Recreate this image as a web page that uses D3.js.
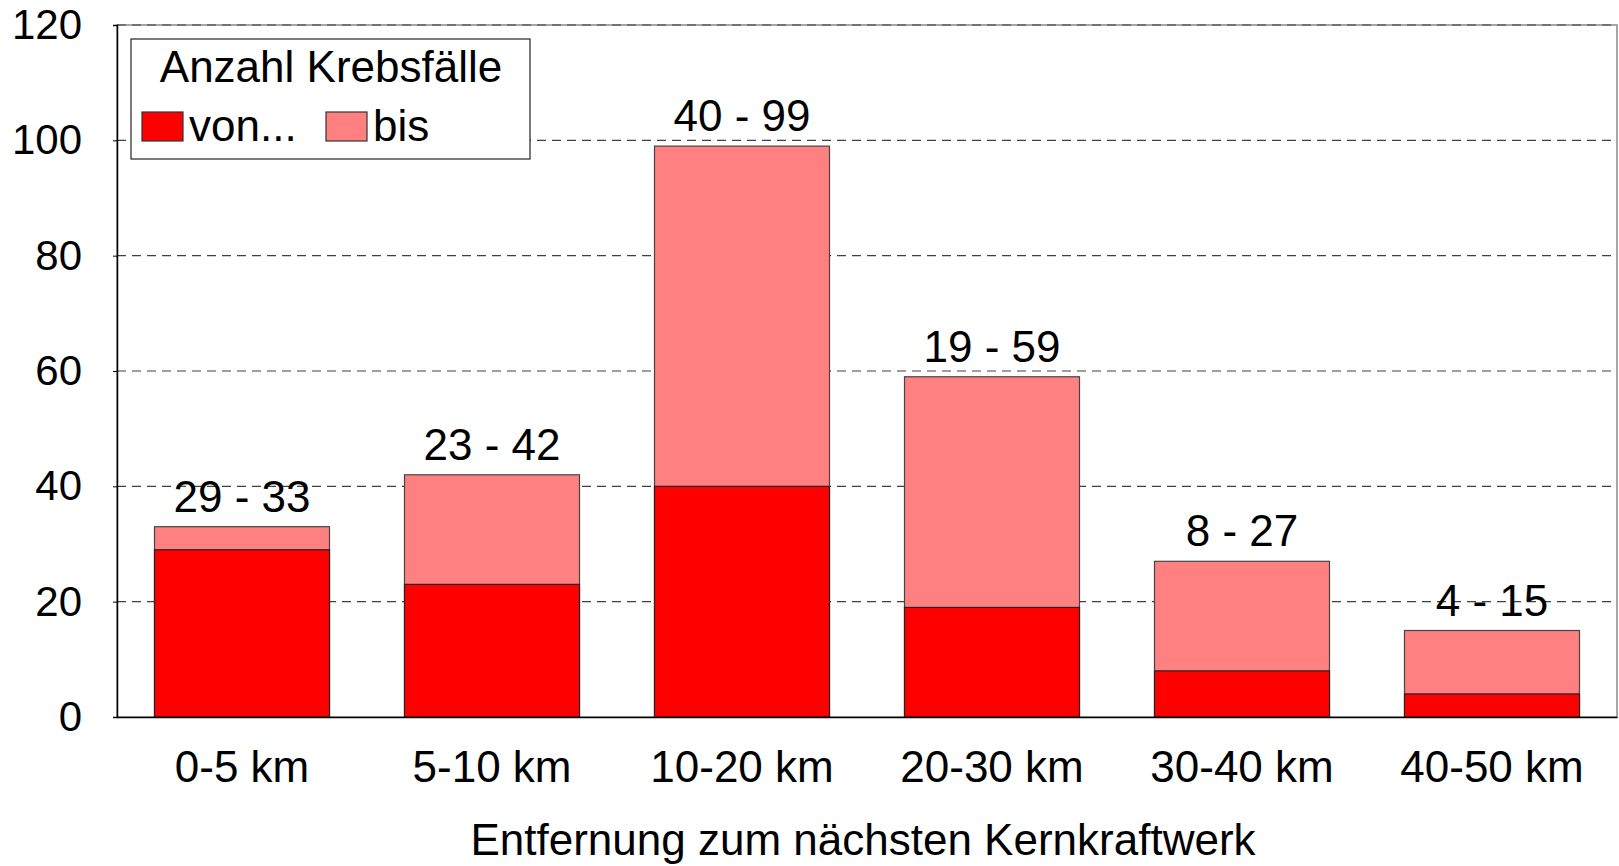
<!DOCTYPE html>
<html>
<head>
<meta charset="utf-8">
<script src="https://cdn.jsdelivr.net/npm/d3@7"></script>
<style>
  body { margin: 0; background: #fff; }
  text { font-family: Arial, "Liberation Sans", sans-serif; fill: #000; }
</style>
</head>
<body>
<script>
// data
var categories = ["0-5 km", "5-10 km", "10-20 km", "20-30 km", "30-40 km", "40-50 km"];
var vonValues = [29, 23, 40, 19, 8, 4];
var bisValues = [33, 42, 99, 59, 27, 15];
var yTicks = [0, 20, 40, 60, 80, 100, 120];
var legendTitle = "Anzahl Krebsfälle";
var seriesNames = ["von...", "bis"];
var xTitle = "Entfernung zum nächsten Kernkraftwerk";

var svg = d3.select("body")
            .append("svg")
            .attr("width", 1619)
            .attr("height", 866);

var margin = {top: 25, right: 2, bottom: 149, left: 117};
var width = 1619 - margin.left - margin.right;
var height = 866 - margin.top - margin.bottom;

var g = svg.append("g")
           .attr("transform", "translate(" + margin.left + "," + margin.top + ")");

var xScale = d3.scaleBand()
               .domain(categories)
               .range([0, width])
               .paddingInner(0.3)
               .paddingOuter(0.15);

var yScale = d3.scaleLinear()
               .domain([0, 120])
               .range([height, 0]);

// plot frame (grey)
g.append("rect")
 .attr("x", 0).attr("y", 0)
 .attr("width", width).attr("height", height)
 .attr("fill", "none")
 .attr("stroke", "#8a8a8a")
 .attr("stroke-width", 1.5);

// dashed gridlines
g.selectAll(".grid")
 .data(yTicks.filter(function(d) { return d > 0; }))
 .enter()
 .append("line")
 .attr("x1", 0)
 .attr("x2", width)
 .attr("y1", function(d) { return yScale(d); })
 .attr("y2", function(d) { return yScale(d); })
 .attr("stroke", "#404040")
 .attr("stroke-width", 1.2)
 .attr("stroke-dasharray", "9,6");

// bars: "bis" total behind, "von" in front
var bars = g.selectAll(".bar")
            .data(categories)
            .enter()
            .append("g");

bars.append("rect")
    .attr("x", function(d) { return xScale(d); })
    .attr("width", xScale.bandwidth())
    .attr("y", function(d, i) { return yScale(bisValues[i]); })
    .attr("height", function(d, i) { return height - yScale(bisValues[i]); })
    .attr("fill", "#ff8080")
    .attr("stroke", "#444")
    .attr("stroke-width", 1.2);

bars.append("rect")
    .attr("x", function(d) { return xScale(d); })
    .attr("width", xScale.bandwidth())
    .attr("y", function(d, i) { return yScale(vonValues[i]); })
    .attr("height", function(d, i) { return height - yScale(vonValues[i]); })
    .attr("fill", "#ff0000")
    .attr("stroke", "#222")
    .attr("stroke-width", 1.2);

bars.append("text")
    .attr("x", function(d) { return xScale(d) + xScale.bandwidth() / 2; })
    .attr("y", function(d, i) { return yScale(bisValues[i]) - 15; })
    .attr("text-anchor", "middle")
    .style("font-size", "44px")
    .text(function(d, i) { return vonValues[i] + " - " + bisValues[i]; });

// axes
var yAxis = g.append("g")
             .call(d3.axisLeft(yScale).tickValues(yTicks).tickSize(4).tickPadding(31));
yAxis.select(".domain").attr("stroke", "#000").attr("stroke-width", 1.5);
yAxis.selectAll(".tick line").attr("stroke", "#000");
yAxis.selectAll(".tick text")
     .style("font-size", "42px")
     .style("font-family", "Arial, 'Liberation Sans', sans-serif");

var xAxis = g.append("g")
             .attr("transform", "translate(0," + height + ")")
             .call(d3.axisBottom(xScale).tickSize(0).tickPadding(34));
xAxis.select(".domain").attr("stroke", "#000").attr("stroke-width", 1.5);
xAxis.selectAll(".tick text")
     .style("font-size", "44px")
     .style("font-family", "Arial, 'Liberation Sans', sans-serif");

svg.append("text")
   .attr("x", margin.left + width / 2 - 4)
   .attr("y", 855)
   .attr("text-anchor", "middle")
   .style("font-size", "44px")
   .text(xTitle);

// legend
var legend = svg.append("g").attr("transform", "translate(131,39)");
legend.append("rect")
      .attr("width", 399).attr("height", 120)
      .attr("fill", "#fff")
      .attr("stroke", "#222")
      .attr("stroke-width", 1.2);
legend.append("text")
      .attr("x", 200).attr("y", 43)
      .attr("text-anchor", "middle")
      .style("font-size", "44px")
      .text(legendTitle);

var legendColors = ["#ff0000", "#ff8080"];
var legendX = [11, 195];
var items = legend.selectAll(".item")
                  .data(seriesNames)
                  .enter()
                  .append("g")
                  .attr("transform", function(d, i) { return "translate(" + legendX[i] + ",73)"; });
items.append("rect")
     .attr("width", 41).attr("height", 29)
     .attr("fill", function(d, i) { return legendColors[i]; })
     .attr("stroke", "#333")
     .attr("stroke-width", 1.2);
items.append("text")
     .attr("x", 47).attr("y", 29)
     .style("font-size", "44px")
     .text(function(d) { return d; });
</script>
</body>
</html>
